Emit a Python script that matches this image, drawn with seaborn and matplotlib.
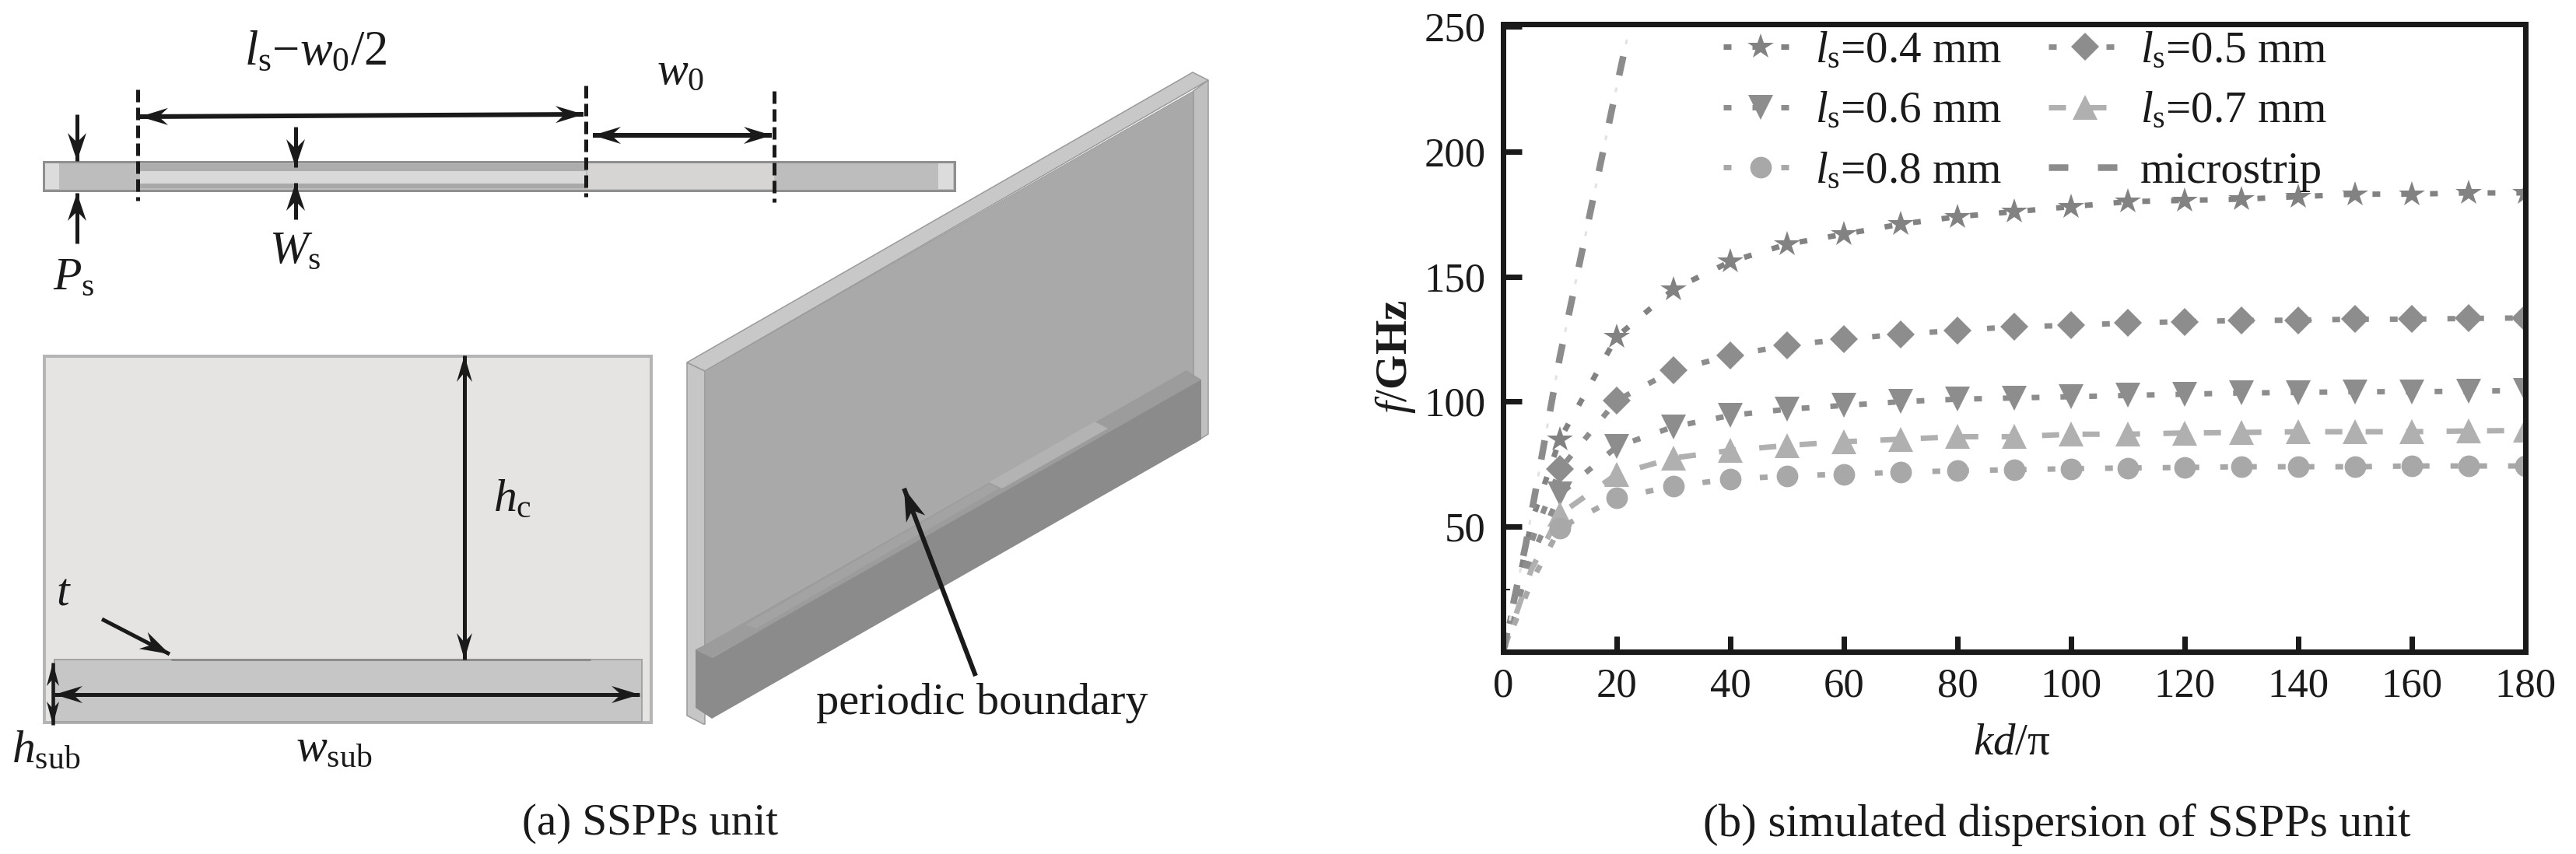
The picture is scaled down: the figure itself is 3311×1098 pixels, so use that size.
import numpy as np
import pandas as pd
import matplotlib
matplotlib.use("Agg")
import matplotlib.pyplot as plt
from matplotlib.lines import Line2D
from matplotlib.patches import Polygon, Rectangle
import seaborn as sns

# ---------- data ----------
kd = [0, 5, 10, 20, 30, 40, 50, 60, 70, 80, 90, 100, 110, 120, 130, 140, 150, 160, 170, 180]
f_04 = [0, 52, 85, 126, 145, 156, 163, 167, 171, 174, 176, 178, 180, 180.5, 181, 182, 183, 183, 183.5, 183.5]
f_05 = [0, 44, 73, 100.5, 112.5, 118.5, 122.5, 125, 127, 128.5, 130, 130.5, 131.5, 132, 132.5, 132.6, 133, 133, 133.3, 133.5]
f_06 = [0, 38, 63, 82, 90, 94.5, 97, 98.5, 100, 101, 101.5, 102, 102.5, 103, 103.5, 103.7, 104, 104, 104.2, 104.5]
f_07 = [0, 33, 55, 71, 77.5, 80.5, 82.5, 84, 85, 86, 86, 87, 87, 87.5, 87.7, 88, 88, 88, 88.3, 88.5]
f_08 = [0, 28, 49.5, 61.5, 66.3, 69, 70.3, 71, 71.8, 72.4, 72.8, 73.2, 73.5, 73.7, 74, 74, 74, 74.3, 74.3, 74.3]
kd_micro = [0, 4, 10, 15, 20, 22]
f_micro = [0, 43, 118, 172, 226, 247]
x_ticks = [0, 20, 40, 60, 80, 100, 120, 140, 160, 180]
y_ticks = [50, 100, 150, 200, 250]
names = [r"$\mathit{l}_{\mathrm{s}}$=0.4 mm", r"$\mathit{l}_{\mathrm{s}}$=0.5 mm",
         r"$\mathit{l}_{\mathrm{s}}$=0.6 mm", r"$\mathit{l}_{\mathrm{s}}$=0.7 mm",
         r"$\mathit{l}_{\mathrm{s}}$=0.8 mm", "microstrip"]

sns.set_theme(style="ticks")
INK = "#1a1a1a"
plt.rcParams.update({
    "font.family": ["Liberation Serif", "DejaVu Serif"],
    "mathtext.fontset": "custom",
    "mathtext.rm": "Liberation Serif",
    "mathtext.it": "Liberation Serif:italic",
    "mathtext.bf": "Liberation Serif:bold",
    "lines.scale_dashes": False,
    "lines.dash_capstyle": "butt",
    "text.color": INK,
    "axes.labelcolor": INK,
})

W, H = 3312, 1098
fig = plt.figure(figsize=(W / 100, H / 100), dpi=100, facecolor="white")
px = 0.72  # points per pixel

# ---------- left: schematic drawn in a pixel-sized canvas ----------
cv = fig.add_axes([0, 0, 1, 1], zorder=0)
cv.set_xlim(0, W)
cv.set_ylim(H, 0)
cv.axis("off")


def box(x0, y0, x1, y1, fc, ec="none", lw=0, z=1):
    cv.add_patch(Rectangle((x0, y0), x1 - x0, y1 - y0, fc=fc, ec=ec, lw=lw * px, zorder=z))


def poly(pts, fc, ec="none", lw=0, z=1, alpha=None):
    cv.add_patch(Polygon(pts, closed=True, fc=fc, ec=ec, lw=lw * px, zorder=z, alpha=alpha))


def head(tip, frm, length=36, half=12, notch=12):
    t, f = np.array(tip, float), np.array(frm, float)
    u = (t - f) / np.linalg.norm(t - f)
    n = np.array([-u[1], u[0]])
    back = t - u * length
    poly([t, back + n * half, t - u * (length - notch), back - n * half], INK, z=6)


def arrow(a, b, both=False, lw=5, **kw):
    cv.plot([a[0], b[0]], [a[1], b[1]], color=INK, lw=lw * px, solid_capstyle="butt", zorder=5)
    head(b, a, **kw)
    if both:
        head(a, b, **kw)


def label(x, y, s, size=43):
    cv.text(x, y, s, fontsize=size, ha="left", va="baseline", color=INK, zorder=7)


# top strip
box(56, 208, 1227, 245, "#bdbdbd", "#8f8f8f", 3)
box(58, 210, 76, 243, "#dcdcdc")
box(1206, 210, 1225, 243, "#dcdcdc")
box(180, 211, 753, 220, "#adadad")
box(180, 220, 753, 236, "#d9d9d9")
box(180, 236, 753, 242, "#a9a9a9")
box(755, 210, 995, 243, "#d6d5d3")
for xd, y0, y1 in [(177, 115, 258), (753, 110, 253), (995, 117, 260)]:
    cv.plot([xd, xd], [y0, y1], color=INK, lw=5 * px, ls=(0, (16 * px, 7 * px)), zorder=5)
arrow((180, 150), (750, 147), both=True, lw=6, length=36, half=11)
arrow((762, 174), (992, 174), both=True, lw=6, length=36, half=11)
arrow((99, 147), (99, 207))
arrow((99, 313), (99, 248))
arrow((380, 163), (380, 215))
arrow((380, 282), (380, 235))
label(314, 83, r"$\mathit{l}_{\mathrm{s}}$$-$$\mathit{w}_{0}$/2", size=45)
label(844, 108, r"$\mathit{w}_{0}$")
label(346, 338, r"$\mathit{W}_{\mathrm{s}}$")
label(68, 372, r"$\mathit{P}_{\mathrm{s}}$")

# front view
box(57, 458, 837, 929, "#e5e4e3", "#b5b5b5", 4)
box(70, 848, 825, 928, "#c6c6c6", "#a3a3a3", 2, z=2)
cv.plot([221, 758], [848, 848], color="#8c8c8c", lw=3 * px, zorder=3)
arrow((597, 457), (597, 848), both=True, lw=5, length=34, half=10)
arrow((70, 893), (822, 893), both=True, lw=5, length=36, half=11)
arrow((68, 852), (68, 932), both=True, lw=4.5, length=30, half=8, notch=9)
arrow((131, 796), (218, 841), length=38, half=12)
label(72, 777, r"$\mathit{t}$")
label(634, 657, r"$\mathit{h}_{\mathrm{c}}$")
label(15, 980, r"$\mathit{h}_{\mathrm{sub}}$")
label(380, 978, r"$\mathit{w}_{\mathrm{sub}}$")
cv.text(836, 1073, "(a) SSPPs unit", fontsize=41, ha="center", va="baseline", color=INK)

# perspective view
poly([(883, 466), (906, 477), (906, 931), (904, 931), (883, 920)], "#c6c6c6", "#9a9a9a", 1.5)
poly([(883, 466), (1533, 93), (1553, 103), (906, 477)], "#c8c8c8", "#9a9a9a", 1.5)
poly([(1534, 117), (1553, 103), (1553, 558), (1534, 570)], "#c0c0c0", "#9a9a9a", 1.5)
poly([(906, 477), (1534, 117), (1534, 500), (906, 850)], "#a9a9a9", "#9a9a9a", 1)
poly([(906, 829), (1525, 476), (1544, 488), (915, 846), (894, 835)], "#9c9c9c", z=2)
poly([(894, 835), (915, 846), (1544, 488), (1544, 565), (915, 924), (894, 910)], "#8b8b8b", z=3)
poly([(1271, 620), (1407, 542), (1424, 551), (1288, 628)], "#b3b3b3", z=4)
poly([(958, 803), (1271, 622), (1284, 628), (972, 808)], "#a3a3a3", z=4)
arrow((1254, 869), (1162, 628), lw=6, length=42, half=13)
cv.text(1049, 918, "periodic boundary", fontsize=42, ha="left", va="baseline", color=INK, zorder=8)
cv.text(2644, 1075, "(b) simulated dispersion of SSPPs unit", fontsize=42.5, ha="center", va="baseline", color=INK)

# ---------- right: dispersion chart ----------
ax = fig.add_axes([1932 / W, (H - 838) / H, (3246 - 1932) / W, (838 - 31) / H], zorder=2, facecolor="none")

frames = []
for nm, vals in zip(names[:5], [f_04, f_05, f_06, f_07, f_08]):
    frames.append(pd.DataFrame({"kd": kd, "f": vals, "series": nm}))
frames.append(pd.DataFrame({"kd": kd_micro, "f": f_micro, "series": names[5]}))
df = pd.concat(frames, ignore_index=True)

palette = dict(zip(names, ["#828282", "#8d8d8d", "#8d8d8d", "#b0b0b0", "#a8a8a8", "#8c8c8c"]))
marks = dict(zip(names, ["*", "D", "v", "^", "o", "o"]))
dot = (10 * px, 27 * px)
dashes = dict(zip(names, [dot, dot, dot, (22 * px, 30 * px), dot, (25 * px, 38 * px)]))
sizes = {"D": 18, "*": 25, "o": 20, "v": 23, "^": 23}

sns.lineplot(data=df, x="kd", y="f", hue="series", style="series", hue_order=names, style_order=names,
             palette=palette, markers=marks, dashes=dashes, estimator=None, errorbar=None,
             linewidth=7 * px, markersize=21, markeredgewidth=0, markeredgecolor="none",
             legend=False, ax=ax)

for ln in ax.lines:
    if len(ln.get_xdata()) == len(kd):
        ln.set_markevery(slice(2, None))
        ln.set_markersize(sizes[ln.get_marker()])
    else:
        ln.set_marker("None")
        ln.set_linewidth(8.5 * px)
    ln.set_dash_capstyle("butt")

# faint dots between the long dashes of the microstrip line
sns.lineplot(data=df[df["series"] == names[5]], x="kd", y="f", color="#e2e2e2", linewidth=3 * px,
             linestyle=(63 * px - 41 * px, (6 * px, 57 * px)), estimator=None, errorbar=None,
             legend=False, ax=ax)

by = {}
for nm in names:
    mk = "None" if nm == names[5] else marks[nm]
    by[nm] = Line2D([], [], color=palette[nm], lw=(8.5 if nm == names[5] else 7) * px, ls=(0, dashes[nm]),
                    marker=mk, ms=sizes.get(mk, 0), mew=0, dash_capstyle="butt")

order = [names[0], names[2], names[4], names[1], names[3], names[5]]
ax.legend([by[n] for n in order], order, ncol=2, frameon=False, fontsize=41, numpoints=1,
          loc="upper left", bbox_to_anchor=(283 / 1314, 0.989), borderaxespad=0, borderpad=0,
          handlelength=1.67, handletextpad=0.4, columnspacing=1.05, labelspacing=0.45)

ax.set_xlim(0, 180)
ax.set_ylim(0, 251)
ax.set_xticks(x_ticks)
ax.set_yticks(y_ticks)
ax.set_yticks([25], minor=True)
ax.tick_params(axis="x", which="major", direction="in", length=20 * px, width=7 * px, color=INK,
               labelsize=38, pad=15, labelcolor=INK)
ax.tick_params(axis="y", which="major", direction="in", length=24 * px, width=7 * px, color=INK,
               labelsize=38, pad=16, labelcolor=INK)
ax.tick_params(axis="y", which="minor", direction="in", length=9 * px, width=2 * px, color=INK)
for s in ax.spines.values():
    s.set_linewidth(7 * px)
    s.set_color(INK)
ax.set_xlabel(r"$\mathit{kd}$/π", fontsize=41)
ax.set_ylabel(r"$\mathit{f}$/$\mathbf{GHz}$", fontsize=41)
ax.xaxis.set_label_coords(654 / 1314, -92 / 807, transform=ax.transAxes)
ax.yaxis.set_label_coords(-110 / 1314, 0.47, transform=ax.transAxes)

fig.savefig("out.png", dpi=100, facecolor="white")
